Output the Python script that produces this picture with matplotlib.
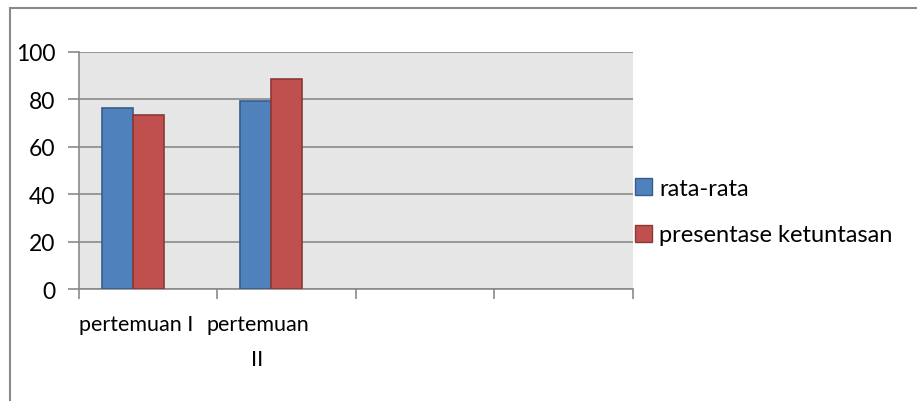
import matplotlib
matplotlib.use("Agg")
import matplotlib.pyplot as plt
from matplotlib.lines import Line2D
from matplotlib.patches import Patch
import numpy as np

categories = ["pertemuan I", "pertemuan\nII", "", ""]
rata_rata = [76.3, 79.0, None, None]
ketuntasan = [73.3, 88.5, None, None]
series_names = ["rata-rata", "presentase ketuntasan"]
y_ticks = [0, 20, 40, 60, 80, 100]

W, H = 917, 402
fig = plt.figure(figsize=(W / 100, H / 100), dpi=100)
fig.patch.set_facecolor("white")
plt.rcParams["font.family"] = ["Lato", "DejaVu Sans"]

left, right, bottom, top = 79, 632.5, 290.3, 52.5
ax = fig.add_axes([left / W, 1 - bottom / H, (right - left) / W, (bottom - top) / H])
ax.set_facecolor("#e6e6e6")

x = np.arange(len(categories))
bw = 0.224
for vals, off, fc, ec in [(rata_rata, -bw, "#4f81bd", "#385d8a"),
                          (ketuntasan, 0.0, "#c0504d", "#8c3836")]:
    xs = [xi + off for xi, v in zip(x, vals) if v is not None]
    hs = [v for v in vals if v is not None]
    ax.bar(xs, hs, width=bw, color=fc, edgecolor=ec, linewidth=1.2, zorder=3)

ax.set_xlim(-0.5, len(categories) - 0.5)
ax.set_ylim(0, 100)
ax.set_yticks(y_ticks)
ax.set_yticklabels([str(t) for t in y_ticks], fontsize=16.5)
ax.yaxis.grid(True, color="#8a8a8a", linewidth=1.2, zorder=1)
ax.set_axisbelow(True)
ax.tick_params(axis="y", direction="out", length=8, width=1.2, color="#8a8a8a", pad=9)

ax.set_xticks(np.arange(-0.5, len(categories)))
ax.set_xticklabels([])
ax.tick_params(axis="x", direction="out", length=7, width=1.2, color="#8a8a8a")

for s in ["top", "right"]:
    ax.spines[s].set_visible(False)
for s in ["left", "bottom"]:
    ax.spines[s].set_color("#8a8a8a")
    ax.spines[s].set_linewidth(1.2)

# category labels under the axis
label_shift = [-0.085, -0.21, 0, 0]
for xi, lab, sh in zip(x, categories, label_shift):
    if lab:
        ax.text(xi + sh, -10.5, lab, ha="center", va="top", fontsize=15.5,
                linespacing=1.9, transform=ax.transData, clip_on=False)

handles = [Patch(facecolor="#4f81bd", edgecolor="#385d8a"),
           Patch(facecolor="#c0504d", edgecolor="#8c3836")]
fig.legend(handles, series_names, loc="upper left", bbox_to_anchor=(618 / W, 1 - 162 / H),
           frameon=False, fontsize=17, handlelength=0.75, handleheight=0.75,
           handletextpad=0.3, labelspacing=1.1, borderpad=0.2)

# outer chart frame
fig.add_artist(Line2D([9.5 / W, 1], [1 - 9 / H, 1 - 9 / H], color="#8a8a8a", linewidth=1.5))
fig.add_artist(Line2D([9.5 / W, 9.5 / W], [0, 1 - 9 / H], color="#8a8a8a", linewidth=1.5))

fig.savefig("out.png", dpi=100)
